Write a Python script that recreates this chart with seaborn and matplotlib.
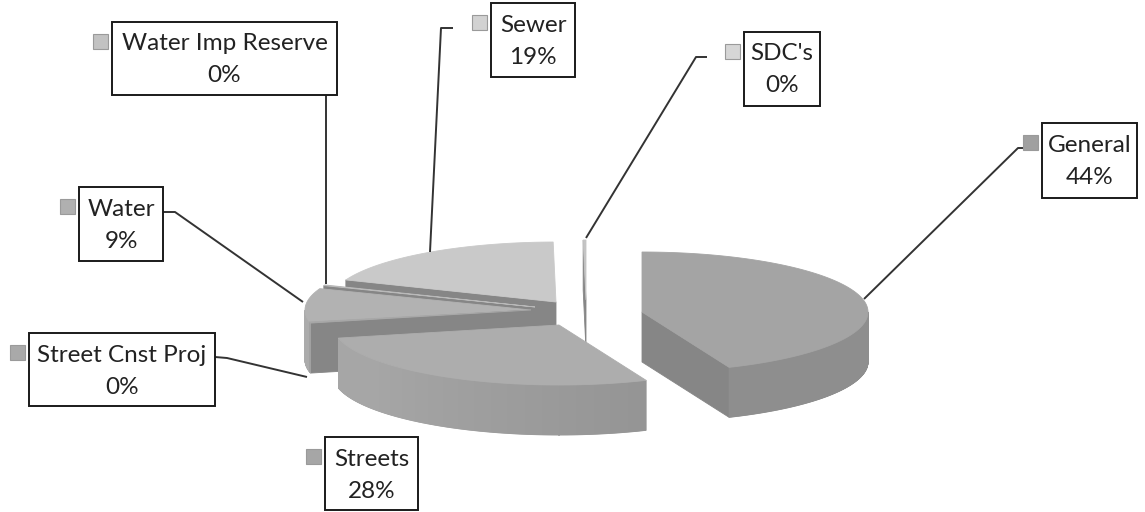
import numpy as np
import matplotlib
matplotlib.use("Agg")
import matplotlib.pyplot as plt
from matplotlib.patches import Polygon, Rectangle
from matplotlib.colors import to_rgb
import seaborn as sns

# ---- data -------------------------------------------------------------
categories = ["General", "Streets", "Street Cnst Proj", "Water",
              "Water Imp Reserve", "Sewer", "SDC's"]
shares = [43.7, 27.8, 0.3, 9.0, 0.2, 18.8, 0.2]

# ---- styling ------------------------------------------------------------
sns.set_theme(style="white")
plt.rcParams["font.family"] = ["Lato", "DejaVu Sans"]

top_colors = ["#a4a4a4", "#adadad", "#a8a8a8", "#b2b2b2", "#b9b9b9", "#c9c9c9", "#c4c4c4"]
side_colors = ["#8e8e8e", "#959595", "#8f8f8f", "#8e8e8e", "#8c8c8c", "#909090", "#9c9c9c"]
key_colors = ["#a0a0a0", "#a6a6a6", "#a9a9a9", "#b0b0b0", "#c2c2c2", "#d2d2d2", "#d6d6d6"]

# pie geometry (screen pixels)
CX, CY = 575, 312
RX, RY, DEPTH = 226, 60, 50
explode = [(67, 0), (-16, 13), (-44, -2), (-44, -2), (-40, -5), (-19, -10), (11, -12)]

# label boxes (x0, y0, x1, y1) and leader polylines
boxes = [(1042, 123, 1137, 198), (325, 437, 418, 510), (29, 333, 215, 406),
         (79, 187, 163, 261), (112, 22, 337, 95), (491, 3, 575, 77),
         (744, 32, 820, 106)]
leaders = [[(1035, 148), (1018, 148), (864, 299)],
           None,
           [(215, 357), (227, 358), (307, 377)],
           [(163, 212), (175, 212), (303, 302)],
           [(326, 95), (326, 284)],
           [(453, 28), (441, 28), (430, 252)],
           [(707, 57), (696, 57), (586, 238)]]

fig = plt.figure(figsize=(11.45, 5.12), dpi=100)
ax = fig.add_axes([0, 0, 1, 1])
ax.set_xlim(0, 1145)
ax.set_ylim(512, 0)
ax.axis("off")

total = float(sum(shares))
bounds = 90 - 360 * np.concatenate([[0], np.cumsum(shares)]) / total


def arc(cx, cy, a_lo, a_hi, n=None):
    if n is None:
        n = max(3, int(abs(a_hi - a_lo) * 3))
    t = np.deg2rad(np.linspace(a_lo, a_hi, n))
    return cx + RX * np.cos(t), cy - RY * np.sin(t)


def rim_shade(top_c, side_c, ang):
    # rim is lit on the lower-left and falls into shade toward the right
    a = ang % 360
    w = np.clip((a - 215) / 75, 0, 1)
    t, s = np.array(to_rgb(top_c)) * 0.96, np.array(to_rgb(side_c))
    return tuple(t * (1 - w) + s * w)


def draw_slice(i):
    a_hi, a_lo = bounds[i], bounds[i + 1]
    dx, dy = explode[i]
    cx, cy = CX + dx, CY + dy
    top_c, side_c = top_colors[i], side_colors[i]
    z = 2 + order_rank[i] * 0.1
    # radial cut faces that face the viewer
    for ang, visible in ((a_lo, np.cos(np.deg2rad(a_lo)) > 1e-6),
                         (a_hi, np.cos(np.deg2rad(a_hi)) < -1e-6)):
        if not visible:
            continue
        ex, ey = arc(cx, cy, ang, ang, 1)
        quad = [(cx, cy), (ex[0], ey[0]), (ex[0], ey[0] + DEPTH), (cx, cy + DEPTH)]
        ax.add_patch(Polygon(quad, closed=True, fc="#868686", ec="#868686",
                             lw=0.6, zorder=z))
    # outer rim on the front half, drawn in thin shaded strips
    n = max(3, int((a_hi - a_lo) * 4))
    ts = np.linspace(a_lo, a_hi, n)
    xs, ys = arc(cx, cy, a_lo, a_hi, n)
    for k in range(n - 1):
        am = (ts[k] + ts[k + 1]) / 2
        if np.sin(np.deg2rad(am)) > 1e-9:
            continue
        col = rim_shade(top_c, side_c, am)
        quad = [(xs[k], ys[k]), (xs[k + 1], ys[k + 1]),
                (xs[k + 1], ys[k + 1] + DEPTH), (xs[k], ys[k] + DEPTH)]
        ax.add_patch(Polygon(quad, closed=True, fc=col, ec=col, lw=0.6,
                             zorder=z + 0.01))
    # top face
    pts = np.concatenate([[(cx, cy)], np.c_[xs, ys]])
    ax.add_patch(Polygon(pts, closed=True, fc=top_c, ec=top_c, lw=0.6,
                         zorder=z + 0.02))


# back-to-front painting order
mids = (bounds[:-1] + bounds[1:]) / 2
depth_key = [CY + explode[i][1] - RY * np.sin(np.deg2rad(mids[i])) * 0.6
             for i in range(len(shares))]
order = np.argsort(depth_key)
order_rank = np.empty(len(order), int)
order_rank[order] = np.arange(len(order))
for i in order:
    draw_slice(i)

# labels with legend keys and leader lines
for i, name in enumerate(categories):
    x0, y0, x1, y1 = boxes[i]
    pct = int(round(shares[i] / total * 100))
    if leaders[i] is not None:
        lx, ly = zip(*leaders[i])
        ax.plot(lx, ly, color="#333333", lw=1.4, zorder=5,
                solid_capstyle="butt")
    ax.add_patch(Rectangle((x0, y0), x1 - x0, y1 - y0, fc="white",
                           ec="#1a1a1a", lw=1.4, zorder=6))
    ax.add_patch(Rectangle((x0 - 19, y0 + 12), 15, 15, fc=key_colors[i],
                           ec="#9a9a9a", lw=0.8, zorder=6))
    xc = (x0 + x1) / 2
    ax.text(xc, y0 + 22, name, ha="center", va="center", fontsize=17.5,
            color="#222222", zorder=7)
    ax.text(xc, y0 + 54, f"{pct}%", ha="center", va="center", fontsize=17.5,
            color="#222222", zorder=7)

fig.savefig("out.png", dpi=100, facecolor="white")
